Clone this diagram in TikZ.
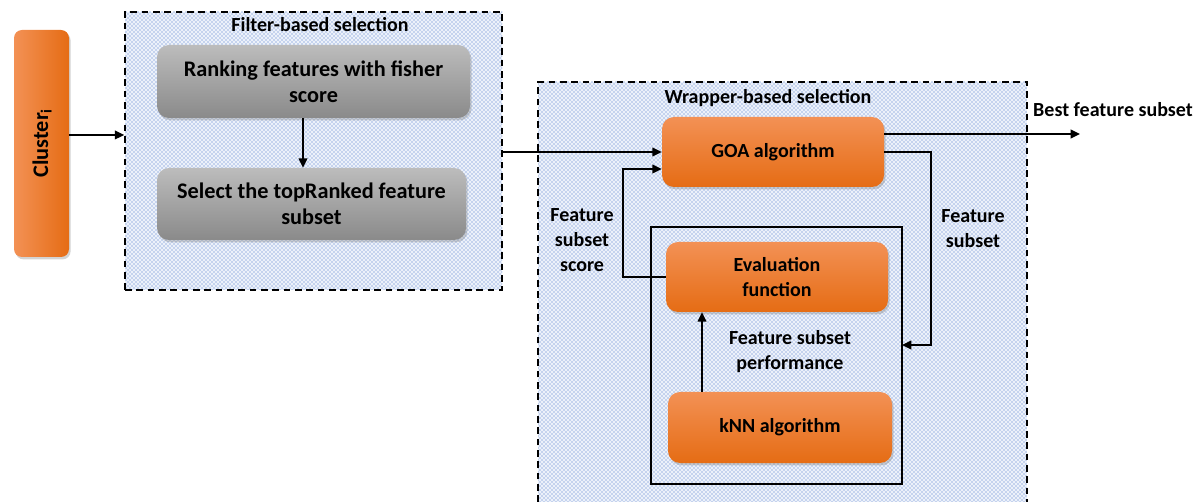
\documentclass[tikz,border=0pt]{standalone}
\usepackage{fontspec}
\setmainfont{Carlito}
\usetikzlibrary{arrows.meta,shadows,patterns,calc}
\definecolor{orT}{RGB}{243,145,85}
\definecolor{orB}{RGB}{229,108,20}
\definecolor{grT}{RGB}{188,188,188}
\definecolor{grB}{RGB}{138,138,138}
\definecolor{dotc}{RGB}{70,115,200}
\definecolor{basec}{RGB}{236,241,250}
\tikzset{
  txt/.style={font=\fontsize{15}{18.75}\selectfont\bfseries, align=center, text=black},
  btxt/.style={font=\fontsize{16.7}{19.5}\selectfont\bfseries, align=center, text=black},
  shad/.style={drop shadow={opacity=0.35, shadow xshift=1.2pt, shadow yshift=-1.8pt}},
  obox/.style={txt, rounded corners=9pt, top color=orT, bottom color=orB, shad},
  gbox/.style={btxt, rounded corners=9pt, top color=grT, bottom color=grB, shad},
  region/.style={pattern=crosshatch dots, pattern color=dotc},
  dsh/.style={dash pattern=on 5pt off 3.5pt, line width=1.1pt},
  arr/.style={line width=1.1pt, -{Triangle[length=7pt,width=6.5pt]}},
}
\begin{document}
\begin{tikzpicture}[x=0.75pt,y=-0.75pt]
\useasboundingbox (0,0) rectangle (1204,502);
% regions
\fill[basec] (125,12) rectangle (502,290);
\node[region, draw, dsh, minimum width=282.75pt, minimum height=208.5pt, inner sep=0pt] (filter) at (313.5,151) {};
\fill[basec] (538,82) rectangle (1027,502);
\fill[region] (538,82) rectangle (1027,502);
\draw[dsh] (538,502) -- (538,82) -- (1027,82) -- (1027,502);
\node[draw, line width=1.1pt, minimum width=188.25pt, minimum height=192.75pt, inner sep=0pt] (inner) at (776.5,355.5) {};
% titles
\node[txt] (ftitle) at (320,25) {Filter-based selection};
\node[txt] (wtitle) at (768,98) {Wrapper-based selection};
% boxes
\node[rounded corners=6pt, left color=orT, right color=orB, minimum width=41.25pt, minimum height=170.25pt, shad] (cluster) at (41.5,143.5) {};
\node[btxt, rotate=90] (clustertxt) at (42,143) {Cluster\textsubscript{i}};
\node[gbox, minimum width=234.75pt, minimum height=54.75pt] (rank) at (313.5,81.5) {Ranking features with fisher\\score};
\node[gbox, minimum width=231.75pt, minimum height=54pt] (sel) at (311.5,204) {Select the topRanked feature\\subset};
\node[obox, minimum width=166.5pt, minimum height=52.5pt] (goa) at (773,152) {GOA algorithm};
\node[obox, minimum width=166.5pt, minimum height=52.5pt] (eval) at (777,277) {Evaluation\\function};
\node[obox, minimum width=168pt, minimum height=53.25pt] (knn) at (780,427.5) {kNN algorithm};
% labels
\node[txt] (lbest) at (1113,110) {Best feature subset};
\node[txt] (lscore) at (582,240) {Feature\\subset\\score};
\node[txt] (lsub) at (973,229) {Feature\\subset};
\node[txt] (lperf) at (790,352) {Feature subset\\performance};
\coordinate (bestend) at (1080,134);
\coordinate (fsin) at (902,345);
% connectors
\draw[arr] ([yshift=6.4pt]cluster.east) -- ([yshift=6.4pt]cluster.east -| filter.west);
\draw[arr] (rank.south -| 303,0) -- (sel.north -| 303,0);
\draw[arr] (goa.west -| filter.east) -- (goa.west);
\draw[arr] (goa.east |- bestend) -- (bestend);
\draw[arr] (goa.east) -| (931,345) -- (fsin);
\draw[arr] (eval.west) -| (623,169) -- (goa.west |- 0,169);
\draw[arr] (knn.north -| 702,0) -- (eval.south -| 702,0);
\end{tikzpicture}
\end{document}
